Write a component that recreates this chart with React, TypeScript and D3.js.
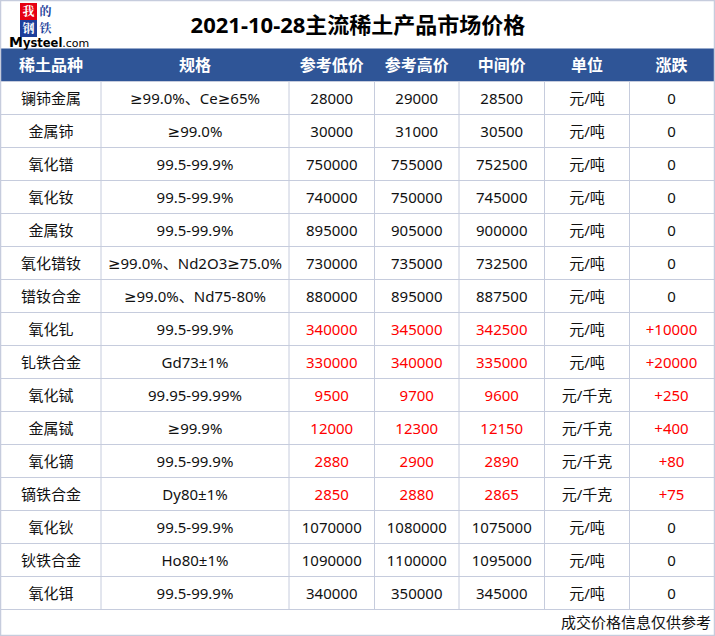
import * as d3 from "d3";
import { useEffect, useRef } from "react";

const title = "2021-10-28主流稀土产品市场价格";
const headers = ["稀土品种", "规格", "参考低价", "参考高价", "中间价", "单位", "涨跌"];
const products = ["镧铈金属", "金属铈", "氧化镨", "氧化钕", "金属钕", "氧化镨钕", "镨钕合金", "氧化钆", "钆铁合金", "氧化铽", "金属铽", "氧化镝", "镝铁合金", "氧化钬", "钬铁合金", "氧化铒"];
const specs = ["≥99.0%、Ce≥65%", "≥99.0%", "99.5-99.9%", "99.5-99.9%", "99.5-99.9%", "≥99.0%、Nd2O3≥75.0%", "≥99.0%、Nd75-80%", "99.5-99.9%", "Gd73±1%", "99.95-99.99%", "≥99.9%", "99.5-99.9%", "Dy80±1%", "99.5-99.9%", "Ho80±1%", "99.5-99.9%"];
const lowPrices = [28000, 30000, 750000, 740000, 895000, 730000, 880000, 340000, 330000, 9500, 12000, 2880, 2850, 1070000, 1090000, 340000];
const highPrices = [29000, 31000, 755000, 750000, 905000, 735000, 895000, 345000, 340000, 9700, 12300, 2900, 2880, 1080000, 1100000, 350000];
const midPrices = [28500, 30500, 752500, 745000, 900000, 732500, 887500, 342500, 335000, 9600, 12150, 2890, 2865, 1075000, 1095000, 345000];
const units = ["元/吨", "元/吨", "元/吨", "元/吨", "元/吨", "元/吨", "元/吨", "元/吨", "元/吨", "元/千克", "元/千克", "元/千克", "元/千克", "元/吨", "元/吨", "元/吨"];
const changes = [0, 0, 0, 0, 0, 0, 0, 10000, 20000, 250, 400, 80, 75, 0, 0, 0];
const footnote = "成交价格信息仅供参考";

const colWidths = [100, 188, 85.5, 84.5, 85.5, 85, 84];

function App() {
	const ref = useRef(null);

	useEffect(() => {
		document.body.style.margin = "0";
		const svg = d3.select(ref.current);
		svg.selectAll("*").remove();

		const width = 715, height = 636;
		const left = 1, top = 1, right = 714, bottom = 635;
		const headTop = 48.5, headBottom = 81.5, footTop = 609.5;
		// DejaVu before the CJK font so that ≥ gets the narrow latin glyph
		const font = "'Noto Sans', 'DejaVu Sans', 'Noto Sans CJK SC', sans-serif";
		const lineColor = "#c6ccdd";
		const blue = "#2f5597";

		const edges = [left];
		colWidths.forEach((w) => edges.push(edges[edges.length - 1] + w));
		const cx = (i) => (edges[i] + edges[i + 1]) / 2;

		const y = d3.scaleBand().domain(d3.range(products.length)).range([headBottom, footTop]);

		svg.append("rect")
			.attr("x", 0).attr("y", 0)
			.attr("width", width).attr("height", height)
			.attr("fill", "#ffffff");

		// header band
		svg.append("rect")
			.attr("x", left).attr("y", headTop)
			.attr("width", right - left).attr("height", headBottom - headTop)
			.attr("fill", blue);

		svg.selectAll(".head")
			.data(headers)
			.enter()
			.append("text")
			.attr("x", (d, i) => cx(i))
			.attr("y", (headTop + headBottom) / 2 + 6)
			.attr("text-anchor", "middle")
			.attr("font-family", font)
			.attr("font-weight", "bold")
			.attr("font-size", 16)
			.attr("fill", "#ffffff")
			.text((d) => d);

		// grid lines
		const g = svg.append("g").attr("stroke", lineColor).attr("stroke-width", 1);
		d3.range(products.length + 1).forEach((i) => {
			const yy = i < products.length ? y(i) : footTop;
			g.append("line").attr("x1", left).attr("x2", right).attr("y1", yy).attr("y2", yy);
		});
		edges.slice(1, -1).forEach((xx) => {
			g.append("line").attr("x1", xx).attr("x2", xx).attr("y1", headBottom).attr("y2", footTop);
		});
		g.append("rect")
			.attr("x", left - 0.5).attr("y", top - 0.5)
			.attr("width", right - left + 1).attr("height", bottom - top + 1)
			.attr("fill", "none").attr("stroke-width", 1.5);

		const rows = products.map((p, i) => ({
			cells: [
				p,
				specs[i],
				String(lowPrices[i]),
				String(highPrices[i]),
				String(midPrices[i]),
				units[i],
				changes[i] === 0 ? "0" : "+" + changes[i]
			],
			up: changes[i] > 0,
			i
		}));

		rows.forEach((r) => {
			r.cells.forEach((c, j) => {
				const red = r.up && j >= 2 && j !== 5;
				svg.append("text")
					.attr("x", cx(j))
					.attr("y", y(r.i) + y.bandwidth() / 2 + 5.5)
					.attr("text-anchor", "middle")
					.attr("font-family", font)
					.attr("font-size", 15)
					.attr("fill", red ? "#ff0000" : "#111111")
					.text(c);
			});
		});

		svg.append("text")
			.attr("x", right - 3)
			.attr("y", (footTop + bottom) / 2 + 5.5)
			.attr("text-anchor", "end")
			.attr("font-family", font)
			.attr("font-size", 15)
			.attr("fill", "#111111")
			.text(footnote);

		// title
		svg.append("text")
			.attr("x", 358)
			.attr("y", 33)
			.attr("text-anchor", "middle")
			.attr("font-family", font)
			.attr("font-weight", "bold")
			.attr("font-size", 22)
			.attr("fill", "#000000")
			.text(title);

		// logo
		const logo = [
			{ t: "我", c: 0, r: 0, bg: "#e60012", fg: "#ffffff" },
			{ t: "的", c: 1, r: 0, bg: "#ffffff", fg: "#1d3f9b" },
			{ t: "钢", c: 0, r: 1, bg: "#1d3f9b", fg: "#ffffff" },
			{ t: "铁", c: 1, r: 1, bg: "#ffffff", fg: "#1d3f9b" }
		];
		const lg = svg.append("g").attr("transform", "translate(20,3)");
		logo.forEach((d) => {
			lg.append("rect")
				.attr("x", d.c * 17).attr("y", d.r * 17)
				.attr("width", 17).attr("height", 17)
				.attr("fill", d.bg);
			lg.append("text")
				.attr("x", d.c * 17 + 8.5).attr("y", d.r * 17 + 13)
				.attr("text-anchor", "middle")
				.attr("font-family", "'Noto Serif CJK SC', 'Noto Sans CJK SC', serif")
				.attr("font-weight", "bold")
				.attr("font-size", 12)
				.attr("fill", d.fg)
				.text(d.t);
		});
		const brand = svg.append("text")
			.attr("x", 9).attr("y", 47)
			.attr("font-family", "'DejaVu Sans', sans-serif")
			.attr("fill", "#000000");
		brand.append("tspan").attr("font-size", 14).attr("font-weight", "bold").text("M");
		brand.append("tspan").attr("font-size", 11.5).attr("font-weight", "bold").text("ysteel");
		brand.append("tspan").attr("font-size", 11).text(".com");
	}, []);

	return <svg ref={ref} width={715} height={636} style={{ display: "block" }}></svg>;
}
export default App;
